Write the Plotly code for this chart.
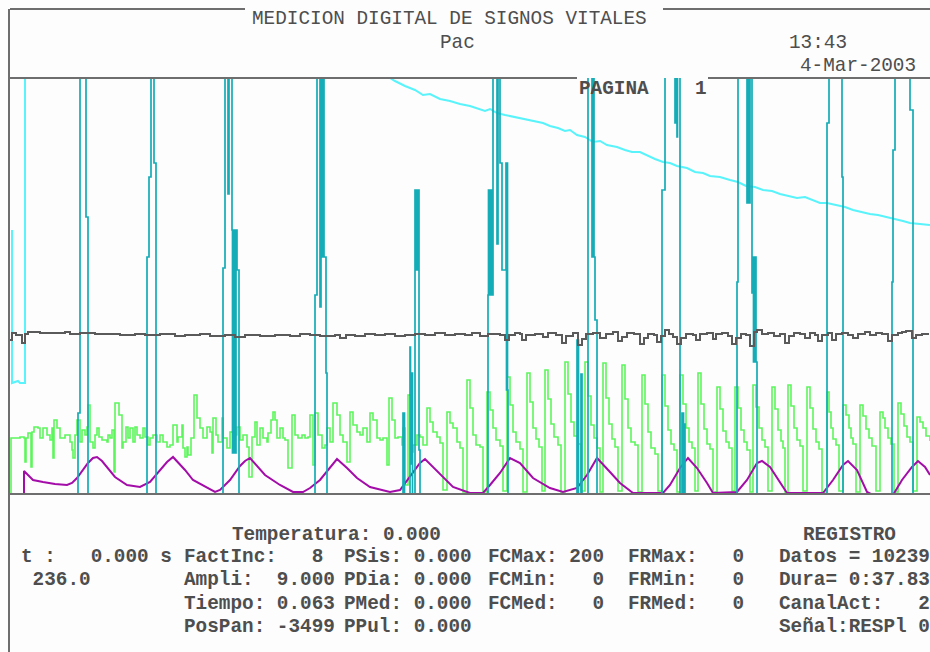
import plotly.graph_objects as go

W, H = 930, 652

# ---------------- signal data (x = sample index, y = amplitude) ----------------
# light cyan channel: short start segment, off-scale, then slow descent
cyan_lt_x = [2, 2, 8, 10, 15, 15, 379, 380, 385, 395, 405, 413, 420, 430, 440, 450, 460, 467,
             475, 480, 487, 495, 505, 515, 525, 533, 540, 548, 555, 560, 567, 575, 583, 590,
             597, 607, 615, 622, 630, 638, 645, 653, 660, 667, 677, 685, 693, 700, 710, 720,
             728, 736, 745, 753, 762, 770, 779, 787, 795, 802, 810, 817, 825, 835, 843, 852,
             860, 868, 877, 885, 893, 900, 908, 915, 920]
cyan_lt_y = [264, 111, 113, 111, 111, 440, 440, 416, 413, 408, 404, 399, 400, 395, 393, 390, 388, 386,
             383, 385, 381, 379, 377, 375, 373, 371, 368, 366, 363, 364, 359, 357, 352, 353,
             349, 347, 344, 342, 342, 338, 335, 332, 331, 328, 326, 322, 321, 318, 317, 314,
             312, 308, 307, 304, 303, 300, 298, 296, 297, 294, 291, 291, 289, 287, 284, 282,
             280, 279, 277, 275, 273, 271, 270, 269, 269]

# dark cyan channel: pulse spikes (held values, step drawing)
pulse_x = [0,
           68, 70, 76, 78,
           137, 139, 141, 144, 146,
           213, 215, 218, 219, 222, 222.5, 223, 223.5, 224, 224.5, 225, 225.5, 226, 227, 229,
           305, 307, 310, 311, 312, 312.5, 313, 313.5, 314, 316, 317,
           393, 393.5, 394, 394.5, 400, 400.5, 401, 401.5, 402, 402.5, 405, 405.5, 406, 406.5,
           407, 407.5, 408, 409, 410,
           478, 478.5, 479, 479.5, 480, 480.5, 481, 481.5, 482, 483, 487, 488, 490, 492, 496,
           496.5, 497, 497.5, 498,
           567, 567.5, 568, 568.5, 571, 572, 578, 582, 582.5, 583, 583.5, 584, 585, 587,
           652, 655, 665, 666, 667, 667.5, 670, 672, 672.5, 673, 673.5, 674, 675,
           727, 728, 737, 737.5, 738, 738.5, 739, 740, 742, 743, 743.5, 744, 744.5, 745, 746, 747,
           817, 819, 832, 833,
           882, 883, 885, 900, 903, 920]
pulse_y = [-20,
           81, 440, 277, -20,
           237, 317, 440, 331, -20,
           226, 440, 300, 440, 264, 41, 264, 41, 264, 41, 264, 41, 264, 224, -20,
           199, 440, 187, 440, 237, 440, 237, 440, 237, 121, -20,
           81, -20, 81, -20, 147, 30, 121, 30, 121, -20, 304, 224, 304, 224,
           304, 224, 304, 44, -20,
           199, 304, 199, 304, 199, 304, 199, 304, 199, 440, 250, 440, 331, 224, 331,
           104, 331, 104, -20,
           154, -20, 154, -20, 120, -20, 440, 237, 440, 237, 440, 237, 174, -20,
           304, 440, 371, 440, 357, 440, -20, 81, -20, 81, -20, 70, -20,
           212, 440, 291, 440, 291, 440, 291, 440, 201, 237, 132, 237, 132, 237, 132, -20,
           371, 440, 317, -20,
           212, 344, 440, 384, -20, -20]

# gray channel (held values)
gray_x = [0, 2, 6, 12, 15, 18, 30, 45, 55, 60, 70, 85, 100, 110, 125, 135, 150, 165, 175, 190,
          200, 215, 225, 235, 250, 265, 280, 290, 300, 310, 325, 330, 336, 345, 355, 365, 375,
          385, 395, 405, 415, 425, 435, 445,
          455, 462, 470, 478, 490, 495, 499, 505, 510, 512, 516, 525, 533, 538, 546, 552, 556,
          563, 568, 572, 576, 583, 590, 596, 603, 608, 612, 617, 624, 630, 634, 638, 644, 647,
          651, 655, 659, 663, 667, 671, 676, 683, 686, 690, 697, 703, 706, 712, 718, 722, 726,
          731, 736, 740, 744, 747, 752, 758, 764, 770, 775, 779, 784, 790, 795, 800, 805, 808,
          812, 818, 822, 826, 832, 838, 843, 848, 855, 860, 866, 872, 878, 882, 888, 892, 896,
          902, 906, 912, 918]
gray_y = [154, 161, 159, 151, 160, 162, 161, 161, 162, 160, 161, 160, 160, 159, 160, 159, 160, 158, 159, 160,
          158, 159, 157, 159, 158, 159, 158, 160, 159, 158, 159, 156, 159, 158, 160, 159, 160,
          158, 159, 160, 159, 161, 159, 160,
          159, 161, 158, 160, 159, 154, 159, 161, 160, 154, 159, 160, 157, 161, 159, 151, 158,
          161, 149, 155, 160, 161, 156, 160, 162, 153, 157, 161, 160, 150, 156, 160, 159, 152,
          158, 164, 160, 157, 150, 156, 160, 159, 154, 160, 161, 155, 160, 161, 158, 150, 156,
          160, 159, 148, 162, 164, 160, 161, 158, 160, 151, 158, 161, 160, 156, 161, 159, 153,
          159, 161, 154, 160, 161, 159, 156, 160, 162, 159, 161, 160, 153, 159, 161, 162, 163,
          156, 159, 160, 159]

# green channel (held values)
green_x = [0, 1, 10, 14, 15, 16, 18, 21, 22, 24, 28, 30, 33, 37, 40, 42, 43, 44, 47, 50, 55, 60,
           62, 63, 65, 67, 70, 72, 75, 77, 78, 80, 83, 85, 87, 89, 92, 97, 98, 100, 102, 104,
           105, 109, 112, 113, 116, 118, 120, 123, 125, 127, 130, 133, 135, 138, 140, 143, 147,
           150, 153, 157, 160, 163, 167, 168, 172, 173, 175, 177, 178, 181, 184, 187, 190, 193,
           197, 200, 202, 203, 206, 208, 212, 213, 217, 220, 223, 227, 230, 233, 237, 239, 242,
           245, 247, 250, 253, 257, 258, 261, 263, 265, 267, 270, 273, 275, 278, 282, 285, 288,
           292, 295, 298,
           300, 303, 305, 308, 312, 315, 317, 320, 323, 327, 330, 333, 337, 340, 343, 347, 350,
           353, 357, 360, 363, 367, 370, 373, 377, 379, 382, 385, 388, 392, 393, 395, 398, 401,
           403, 407, 410, 413, 417, 420, 423, 427, 430, 433, 437, 440, 443, 447, 450, 453,
           457, 460, 463, 466, 470, 473,
           477, 480, 483, 486, 490, 493,
           497, 500, 503, 506, 510, 513,
           517, 520, 523, 526, 529, 532,
           535, 538, 541, 544, 548, 551,
           555, 558, 561, 564, 568, 571,
           575, 578, 581, 584, 587, 590,
           593, 596, 599, 602, 605, 608,
           612, 615, 618, 621, 625, 628,
           632, 635, 638, 641, 645, 648,
           652, 655, 658, 661, 664, 667,
           670, 673, 676, 679, 682, 685,
           688, 691, 694, 697, 700, 703,
           707, 710, 713, 716, 719, 722,
           725, 728, 731, 734, 737, 740,
           743, 746, 749, 752, 755, 758,
           762, 765, 768, 771, 773, 775,
           778, 781, 784, 787, 790, 793,
           797, 800, 803, 806, 809, 812,
           817, 819, 821, 823, 826, 829,
           833, 836, 839, 841, 843, 846,
           850, 853, 856, 859, 862, 866,
           870, 873, 875, 878, 881, 884,
           888, 891, 894, 897, 900, 903,
           907, 910, 913, 916, 920]
green_y = [-10, 56, 57, 56, 32, 56, 61, 27, 62, 67, 66, 56, 66, 59, 54, 66, 36, 74, 66, 56, 59, 52,
           44, 36, 59, 74, 52, 64, 59, 67, 89, 52, 46, 59, 66, 57, 54, 52, 59, 56, 64, 22,
           91, 79, 46, 52, 67, 56, 66, 52, 67, 59, 56, 66, 57, 49, 56, 59, 52,
           59, 52, 47, 49, 69, 52, 57, 69, 46, 37, 47, 39, 56, 99, 76, 66, 56,
           67, 62, 41, 76, 59, 52, 76, 56, 46, 62, 59, 67, 54, 59, 47, 17, 57,
           72, 49, 66, 56, 52, 61, 74, 82, 74, 56, 66, 56, 54, 26, 79, 59, 56,
           59, 56, 57,
           79, 29, 81, 59, 46, 49, 66, 52, 91, 79, 59, 52, 32, 82, 69, 62, 59,
           66, 52, 81, 74, 56, 54, 56, 29, 96, 74, 56, 57, 49, 66, 9, 99, 42,
           49, 59, 57, 49, 86, 72, 62, 57, 51, 4, 82, 71, 66, 52, 46, 2,
           114, 86, 59, 49, 47, 2,
           102, 84, 66, 54, 48, 3,
           117, 89, 62, 52, 45, 2,
           121, 92, 66, 55, 47, 3,
           124, 95, 70, 57, 49, 2,
           132, 100, 72, 58, 50, 3,
           132, 98, 69, 56, 46, 2,
           131, 96, 70, 55, 47, 3,
           129, 95, 66, 52, 49, 2,
           119, 90, 62, 46, 40, 3,
           119, 88, 64, 50, 44, 2,
           119, 90, 66, 52, 46, 3,
           121, 90, 65, 50, 45, 2,
           107, 85, 63, 52, 46, 3,
           107, 86, 64, 52, 44, 2,
           109, 87, 66, 54, 47, 3,
           107, 85, 64, 53, 46, 2,
           109, 88, 66, 54, 48, 3,
           107, 86, 65, 52, 45, 2,
           102, 82, 66, 55, 49, 3,
           89, 79, 66, 56, 50, 2,
           89, 78, 65, 56, 48, 3,
           82, 76, 66, 56, 50, 2,
           91, 80, 68, 57, 52, 3,
           77, 72, 66, 58, 53]

# magenta channel: respiration wave
resp_x = [14, 14, 18, 23, 33, 45, 57, 62, 67, 72, 78, 83, 87, 92, 97, 105, 117, 130, 140, 150,
          157, 163, 168, 175, 183, 197, 205, 210, 220, 230, 235, 240, 245, 255, 270, 283, 293,
          300, 310, 320, 327, 337, 347, 360, 380, 390, 400, 410, 415, 423, 433, 443, 460, 473,
          480, 490, 500, 510, 523, 540, 553, 567, 577, 587, 600, 610, 623, 653, 660, 670, 678,
          687, 697, 703, 727, 737, 747, 752, 760, 770, 777, 813, 823, 833, 838, 847, 857, 863,
          883, 892, 902, 908, 915, 920]
resp_y = [-5, 23, 19, 14, 12, 10, 9, 11, 16, 23, 31, 36, 37, 33, 27, 17, 9, 7, 12, 24,
          32, 37, 32, 24, 14, 6, 2, 4, 14, 28, 33, 36, 30, 19, 9, 2, 2,
          6, 14, 27, 35, 26, 16, 7, 2, 4, 17, 31, 35, 27, 16, 7, 1, 1,
          9, 21, 36, 31, 16, 6, 2, 6, 19, 36, 22, 11, 1, 1, 9, 26, 36,
          26, 11, 1, 2, 14, 31, 33, 27, 11, 1, 1, 14, 29, 33, 24, 2, -1,
          -1, 14, 27, 33, 27, 19]

# ---------------- text ----------------
header_title = "MEDICION DIGITAL DE SIGNOS VITALES"
header_patient = "Pac"
header_time = "13:43"
header_date = "4-Mar-2003"
page_label = "PAGINA"
page_number = "1"

info_rows = [
    # (text, x, y)
    ("Temperatura: 0.000", 231, 535),
    ("REGISTRO", 802, 535),
    ("t :   0.000 s", 20, 557),
    ("FactInc:   8", 183, 557),
    ("PSis: 0.000", 343, 557),
    ("FCMax: 200", 487, 557),
    ("FRMax:   0", 627, 557),
    ("Datos = 10239", 778, 557),
    (" 236.0", 20, 580),
    ("Ampli:  9.000", 183, 580),
    ("PDia: 0.000", 343, 580),
    ("FCMin:   0", 487, 580),
    ("FRMin:   0", 627, 580),
    ("Dura= 0:37.83", 778, 580),
    ("Tiempo: 0.063", 183, 604),
    ("PMed: 0.000", 343, 604),
    ("FCMed:   0", 487, 604),
    ("FRMed:   0", 627, 604),
    ("CanalAct:   2", 778, 604),
    ("PosPan: -3499", 183, 627),
    ("PPul: 0.000", 343, 627),
    ("Señal:RESPl 0", 778, 627),
]

# ---------------- styling ----------------
BG = "#fdfdfd"
FRAME = "#6e6e6e"
TEXT = "#4e4e4e"
C_GREEN = "#5cf65c"
C_MAG = "#a30ca8"
C_GRAY = "#5a5a5a"
C_LTCYAN = "#58f3fb"
C_CYAN = "#14acb6"
MONO = "Liberation Mono, DejaVu Sans Mono, monospace"
FS = 19.35


def px(x):
    return x / W


def py(y):
    return 1 - y / H


fig = go.Figure()
fig.add_trace(go.Scatter(x=green_x, y=green_y, mode="lines",
                         line=dict(color=C_GREEN, width=1.6, shape="hv"), hoverinfo="skip"))
fig.add_trace(go.Scatter(x=resp_x, y=resp_y, mode="lines",
                         line=dict(color=C_MAG, width=2), hoverinfo="skip"))
fig.add_trace(go.Scatter(x=cyan_lt_x, y=cyan_lt_y, mode="lines",
                         line=dict(color=C_LTCYAN, width=2), hoverinfo="skip"))
fig.add_trace(go.Scatter(x=pulse_x, y=pulse_y, mode="lines",
                         line=dict(color=C_CYAN, width=1.7, shape="hv"), hoverinfo="skip"))
fig.add_trace(go.Scatter(x=gray_x, y=gray_y, mode="lines",
                         line=dict(color=C_GRAY, width=2, shape="hv"), hoverinfo="skip"))

# frame lines
segments = [
    (10, 9, 245, 9), (663, 9, 930, 9),
    (9, 9, 9, 652),
    (10, 78, 577, 78), (708, 78, 930, 78),
    (10, 494, 930, 494),
]
shapes = [dict(type="line", xref="paper", yref="paper", x0=px(a), y0=py(b), x1=px(c), y1=py(d),
               line=dict(color=FRAME, width=2)) for a, b, c, d in segments]

annotations = []


def label(text, x, y, weight="bold", size=FS):
    annotations.append(dict(
        text=text.replace(" ", "\u00a0"), x=px(x), y=py(y), xref="paper", yref="paper",
        xanchor="left", yanchor="middle", showarrow=False, borderpad=0,
        font=dict(family=MONO, size=size, color=TEXT, weight=weight)))


label(header_title, 251, 19, weight="normal")
label(header_patient, 439, 43, weight="normal")
label(header_time, 788, 43, weight="normal")
label(header_date, 799, 66, weight="normal")
label(page_label, 578, 89)
label(page_number, 694, 89)
for t, x, y in info_rows:
    label(t, x, y)

fig.update_layout(
    width=W, height=H,
    margin=dict(l=0, r=0, t=0, b=0),
    paper_bgcolor=BG, plot_bgcolor=BG,
    showlegend=False,
    xaxis=dict(domain=[10 / W, 1], range=[0, 920], visible=False, fixedrange=True),
    yaxis=dict(domain=[1 - 494 / H, 1 - 78 / H], range=[0, 416], visible=False, fixedrange=True),
    shapes=shapes,
    annotations=annotations,
)

fig.write_html("out.html", config={"displayModeBar": False})
